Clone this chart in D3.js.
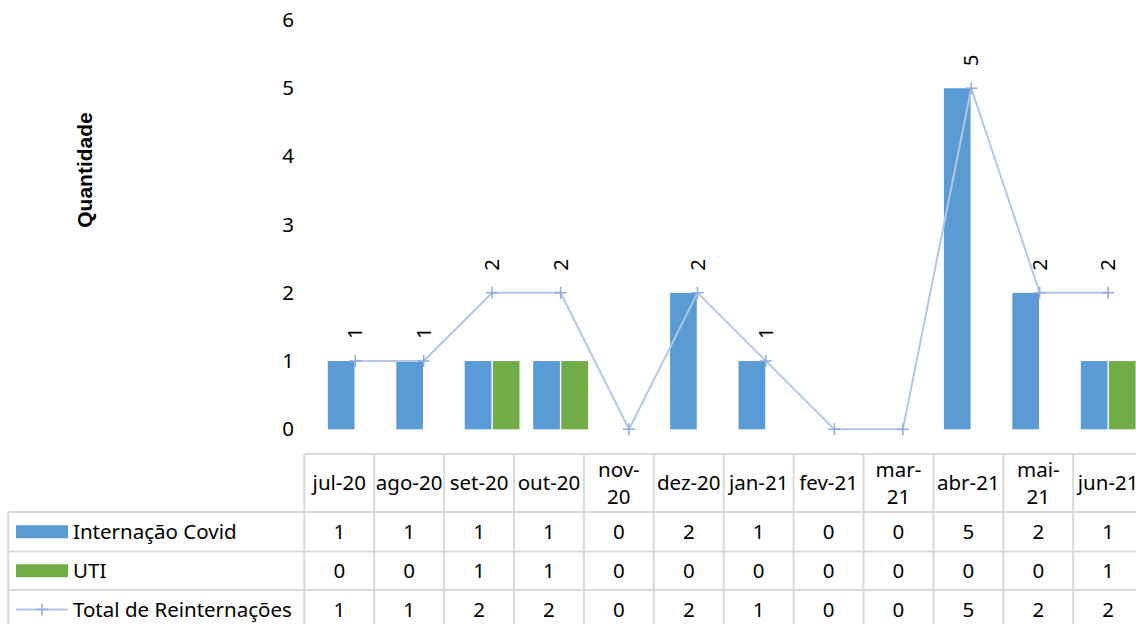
<!DOCTYPE html>
<html>
<head>
<meta charset="utf-8">
<script src="https://cdn.jsdelivr.net/npm/d3@7"></script>
<style>
  body { margin: 0; background: #fff; }
  svg { display: block; font-family: "Noto Sans", sans-serif; }
</style>
</head>
<body>
<svg width="1136" height="624"></svg>
<script>
// data
var categories = ["jul-20", "ago-20", "set-20", "out-20", "nov-20", "dez-20", "jan-21", "fev-21", "mar-21", "abr-21", "mai-21", "jun-21"];
var internacao = [1, 1, 1, 1, 0, 2, 1, 0, 0, 5, 2, 1];
var uti = [0, 0, 1, 1, 0, 0, 0, 0, 0, 0, 0, 1];
var total = [1, 1, 2, 2, 0, 2, 1, 0, 0, 5, 2, 2];
var yTicks = [0, 1, 2, 3, 4, 5, 6];
// header labels that wrap onto two lines in the table
var wrapped = ["nov-20", "mar-21", "mai-21"];

var barSeries = [
  { name: "Internação Covid", values: internacao, color: "#5b9bd5" },
  { name: "UTI", values: uti, color: "#70ad47" }
];
var lineColor = "#b4c7e7", markerColor = "#8faadc";
var gridColor = "#d9d9d9";
var fs = 20.5;

var svg = d3.select("svg");

// scales
var x = d3.scaleBand().domain(categories).range([321, 321 + 12 * 68.45]);
var xSub = d3.scaleBand().domain(barSeries.map(d => d.name))
  .range([x.bandwidth() * 0.1, x.bandwidth() * 0.9]).paddingInner(0.05);
var y = d3.scaleLinear().domain([0, 6]).range([429.3, 20]);

// y axis (labels only)
var yAxis = svg.append("g")
  .attr("transform", "translate(300,0)")
  .call(d3.axisLeft(y).tickValues(yTicks).tickFormat(d3.format("d")).tickSize(0).tickPadding(6));
yAxis.select(".domain").remove();
yAxis.selectAll("text").attr("font-size", fs).attr("fill", "#000")
  .style("font-family", "Noto Sans");

svg.append("text")
  .attr("transform", "translate(85,170) rotate(-90)")
  .attr("text-anchor", "middle")
  .attr("dy", "0.35em")
  .attr("font-family", "Liberation Sans")
  .attr("font-weight", "bold")
  .attr("font-size", 21)
  .text("Quantidade");

// bars
var groups = svg.append("g").attr("class", "bars")
  .selectAll("g")
  .data(barSeries)
  .enter().append("g")
  .attr("fill", d => d.color);

groups.selectAll("rect")
  .data(s => s.values.map((v, i) => ({ name: s.name, cat: categories[i], v: v })))
  .enter().append("rect")
  .filter(d => d.v > 0)
  .attr("x", d => x(d.cat) + xSub(d.name))
  .attr("width", xSub.bandwidth())
  .attr("y", d => y(d.v))
  .attr("height", d => y(0) - y(d.v));

// total line
var cx = c => x(c) + x.bandwidth() / 2;
var line = d3.line().x((d, i) => cx(categories[i])).y(d => y(d));
svg.append("path")
  .datum(total)
  .attr("fill", "none")
  .attr("stroke", lineColor)
  .attr("stroke-width", 2)
  .attr("d", line);

svg.append("g").selectAll("path")
  .data(total)
  .enter().append("path")
  .attr("d", "M-6,0H6M0,-6V6")
  .attr("transform", (d, i) => "translate(" + cx(categories[i]) + "," + y(d) + ")")
  .attr("stroke", markerColor)
  .attr("stroke-width", 1.5);

// data labels for the total line
svg.append("g").selectAll("text")
  .data(total.map((v, i) => ({ v: v, cat: categories[i] })).filter(d => d.v > 0))
  .enter().append("text")
  .attr("transform", d => "translate(" + cx(d.cat) + "," + (y(d.v) - 22) + ") rotate(-90)")
  .attr("dy", "0.35em")
  .attr("font-size", fs)
  .attr("fill", "#000")
  .text(d => d.v);

// data table
var xt = d3.scaleBand().domain(categories).range([304.3, 304.3 + 12 * 69.9]);
var rowTops = [454, 512, 551.5, 590, 629];
var legendLeft = 8.3;
var table = svg.append("g").attr("class", "table");

function hline(x1, x2, yy) {
  table.append("line").attr("x1", x1).attr("x2", x2).attr("y1", yy).attr("y2", yy)
    .attr("stroke", gridColor).attr("stroke-width", 2);
}
function vline(xx, y1, y2) {
  table.append("line").attr("x1", xx).attr("x2", xx).attr("y1", y1).attr("y2", y2)
    .attr("stroke", gridColor).attr("stroke-width", 2);
}

hline(xt.range()[0], xt.range()[1], rowTops[0]);
rowTops.slice(1).forEach(r => hline(legendLeft, xt.range()[1], r));
vline(legendLeft, rowTops[1], rowTops[4]);
categories.forEach(c => vline(xt(c), rowTops[0], rowTops[4]));
vline(xt.range()[1], rowTops[0], rowTops[4]);

// header labels
var headerMid = (rowTops[0] + rowTops[1]) / 2;
categories.forEach(function (c) {
  var t = table.append("text")
    .attr("x", xt(c) + xt.bandwidth() / 2)
    .attr("text-anchor", "middle")
    .attr("font-size", fs)
    .attr("fill", "#000");
  if (wrapped.indexOf(c) >= 0) {
    var parts = c.split("-");
    t.append("tspan").attr("x", xt(c) + xt.bandwidth() / 2).attr("y", headerMid - 13.5).attr("dy", "0.35em").text(parts[0] + "-");
    t.append("tspan").attr("x", xt(c) + xt.bandwidth() / 2).attr("y", headerMid + 13.5).attr("dy", "0.35em").text(parts[1]);
  } else {
    t.attr("y", headerMid).attr("dy", "0.35em").text(c);
  }
});

// rows
var rows = [
  { name: barSeries[0].name, values: internacao, key: "bar", color: barSeries[0].color },
  { name: barSeries[1].name, values: uti, key: "bar", color: barSeries[1].color },
  { name: "Total de Reinternações", values: total, key: "line" }
];

rows.forEach(function (r, ri) {
  var mid = (rowTops[ri + 1] + rowTops[ri + 2]) / 2;
  if (r.key === "bar") {
    table.append("rect").attr("x", 16).attr("y", mid - 6.5).attr("width", 52).attr("height", 13).attr("fill", r.color);
  } else {
    table.append("line").attr("x1", 16).attr("x2", 68).attr("y1", mid).attr("y2", mid)
      .attr("stroke", lineColor).attr("stroke-width", 2);
    table.append("path").attr("d", "M-6,0H6M0,-6V6")
      .attr("transform", "translate(42," + mid + ")")
      .attr("stroke", markerColor).attr("stroke-width", 1.5);
  }
  table.append("text").attr("x", 73).attr("y", mid).attr("dy", "0.35em")
    .attr("font-size", fs).attr("fill", "#000").text(r.name);
  table.selectAll(null)
    .data(r.values)
    .enter().append("text")
    .attr("x", (d, i) => xt(categories[i]) + xt.bandwidth() / 2)
    .attr("y", mid)
    .attr("dy", "0.35em")
    .attr("text-anchor", "middle")
    .attr("font-size", fs)
    .attr("fill", "#000")
    .text(d => d);
});
</script>
</body>
</html>
